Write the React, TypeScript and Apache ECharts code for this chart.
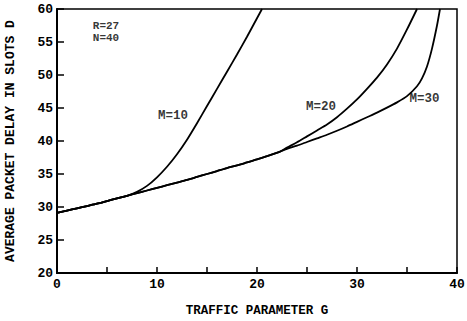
import React, { useEffect, useRef } from "react";
import * as echarts from "echarts";

const gCommon = [0, 1, 2, 3, 4, 5, 6, 7];
const dCommon = [29.1, 29.45, 29.8, 30.15, 30.5, 30.9, 31.3, 31.7];

const gM10 = [8, 9, 10, 11, 12, 13, 14, 15, 16, 17, 18, 19, 20, 20.5];
const dM10 = [32.3, 33.2, 34.5, 36.1, 38.0, 40.2, 42.7, 45.3, 47.9, 50.5, 53.1, 55.8, 58.6, 60];

const gShared = [8, 9, 10, 11, 12, 13, 14, 15, 16, 17, 18, 19, 20, 21, 22.3];
const dShared = [32.1, 32.5, 32.9, 33.3, 33.7, 34.1, 34.55, 35.0, 35.45, 35.9, 36.3, 36.75, 37.2, 37.7, 38.4];

const gM20 = [23, 24, 25, 26, 27, 28, 29, 30, 31, 32, 33, 34, 35, 36];
const dM20 = [39.0, 39.8, 40.7, 41.6, 42.5, 43.6, 44.9, 46.3, 47.9, 49.6, 51.6, 54.0, 56.9, 60];

const gM30 = [23, 24, 25, 26, 27, 28, 29, 30, 31, 32, 33, 34, 35, 36, 36.5, 37, 37.5, 38, 38.3];
const dM30 = [38.8, 39.3, 39.85, 40.4, 40.95, 41.55, 42.2, 42.9, 43.6, 44.3, 45.05, 45.85, 46.8, 48.3, 49.5, 51.3, 54.0, 57.5, 60];

const labelText = ["M=10", "M=20", "M=30", "R=27", "N=40"];
const labelG = [11.6, 26.4, 36.75, 4.9, 4.9];
const labelD = [43.8, 45.15, 46.4, 57.4, 55.6];
const labelSize = [12.5, 12.5, 12.5, 11, 11];

const xTicks = { min: 0, max: 40, interval: 5 };
const yTicks = { min: 20, max: 60, interval: 5 };

const FONT = "Liberation Mono";

function zip(g: number[], d: number[]) {
  return g.map((x, i) => [x, d[i]]);
}

export default function App() {
  const ref = useRef<HTMLDivElement>(null);
  useEffect(() => {
    document.body.style.margin = "0";
    const chart = echarts.init(ref.current!, null, { renderer: "svg" });
    const common = zip(gCommon, dCommon);
    const shared = zip(gShared, dShared);
    const m10 = [...common, ...zip(gM10, dM10)];
    const m20 = [...common, ...shared, ...zip(gM20, dM20)];
    const m30 = [...common, ...shared, ...zip(gM30, dM30)];
    const lineStyle = { color: "#000", width: 1.8 };
    const mkLine = (name: string, data: number[][]) => ({
      name,
      type: "line",
      data,
      smooth: 0.25,
      showSymbol: false,
      symbol: "none",
      lineStyle,
      clip: true,
    });
    chart.setOption({
      animation: false,
      backgroundColor: "#fff",
      grid: {
        left: 57,
        right: 10,
        top: 9,
        bottom: 48,
        containLabel: false,
        outerBoundsMode: "none",
        show: true,
        borderColor: "#000",
        borderWidth: 1.5,
      },
      textStyle: { fontFamily: FONT },
      xAxis: {
        type: "value",
        min: xTicks.min,
        max: xTicks.max,
        interval: xTicks.interval,
        name: "TRAFFIC PARAMETER G",
        nameLocation: "middle",
        nameGap: 31,
        nameTextStyle: { color: "#000", fontFamily: FONT, fontWeight: "bold", fontSize: 12.5 },
        axisLine: { show: true, lineStyle: { color: "#000", width: 2 } },
        axisTick: { show: true, inside: true, length: 6, lineStyle: { color: "#000", width: 1.5 } },
        axisLabel: {
          color: "#000",
          fontFamily: FONT,
          fontWeight: "bold",
          fontSize: 13,
          margin: 5,
          interval: 1,
          formatter: (v: number) => (v % 10 === 0 ? String(v) : ""),
        },
        splitLine: { show: false },
      },
      yAxis: {
        type: "value",
        min: yTicks.min,
        max: yTicks.max,
        interval: yTicks.interval,
        name: "AVERAGE PACKET DELAY IN SLOTS D",
        nameLocation: "middle",
        nameGap: 40,
        nameRotate: 90,
        nameTextStyle: { color: "#000", fontFamily: FONT, fontWeight: "bold", fontSize: 13 },
        axisLine: { show: true, lineStyle: { color: "#000", width: 2 } },
        axisTick: { show: true, inside: true, length: 7, lineStyle: { color: "#000", width: 1.5 } },
        axisLabel: { color: "#000", fontFamily: FONT, fontWeight: "bold", fontSize: 13, margin: 4 },
        splitLine: { show: false },
      },
      series: [
        mkLine("M=10", m10),
        mkLine("M=20", m20),
        mkLine("M=30", m30),
        {
          name: "labels",
          type: "scatter",
          symbolSize: 0,
          data: labelG.map((g, i) => ({
            value: [g, labelD[i]],
            name: labelText[i],
            label: { fontSize: labelSize[i], lineHeight: labelSize[i] },
          })),
          label: {
            show: true,
            position: "inside",
            formatter: (p: any) => p.name,
            color: "#000",
            fontFamily: FONT,
            fontWeight: "bold",
            fontSize: 11,
            lineHeight: 11,
          },
          silent: true,
        },
      ],
    });
    return () => chart.dispose();
  }, []);
  return <div ref={ref} style={{ width: 467, height: 321 }} />;
}
